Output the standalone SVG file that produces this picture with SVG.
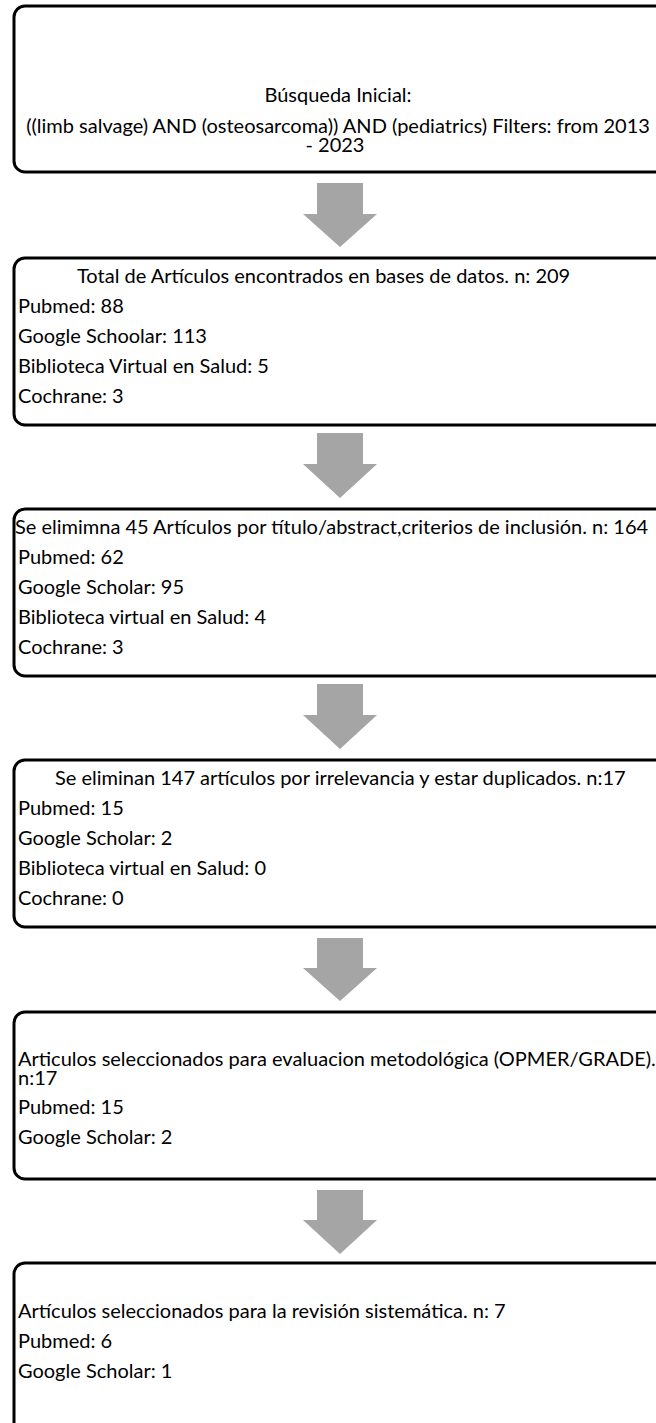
<svg xmlns="http://www.w3.org/2000/svg" width="656" height="1423" viewBox="0 0 656 1423">
<style>
.box{fill:#fff;stroke:#000;stroke-width:3}
.t{font-family:Lato,"Open Sans",sans-serif;font-size:20px;fill:#000}
.c{text-anchor:middle}
.arr{fill:#A5A5A5}
</style>
<rect width="656" height="1423" fill="#fff"/>
<g id="connectors">
<polygon class="arr" points="317,183 363,183 363,214 377,214 340,247 303,214 317,214"/>
<polygon class="arr" points="317,433 363,433 363,464 377,464 340,498 303,464 317,464"/>
<polygon class="arr" points="317,684 363,684 363,715 377,715 340,749 303,715 317,715"/>
<polygon class="arr" points="317,938 363,938 363,968 377,968 340,1001 303,968 317,968"/>
<polygon class="arr" points="317,1190 363,1190 363,1220 377,1220 340,1254 303,1220 317,1220"/>
</g>
<g id="n1">
<rect class="box" x="14" y="6" width="654" height="166" rx="11"/>
<text class="t c" x="338" y="102">Búsqueda Inicial:</text>
<text class="t c" x="338" y="133">((limb salvage) AND (osteosarcoma)) AND (pediatrics) Filters: from 2013</text>
<text class="t c" x="335" y="152">- 2023</text>
</g>
<g id="n2">
<rect class="box" x="14" y="258" width="654" height="167" rx="11"/>
<text class="t" x="77" y="283">Total de Artículos encontrados en bases de datos. n: 209</text>
<text class="t" x="18" y="313">Pubmed: 88</text>
<text class="t" x="18" y="343">Google Schoolar: 113</text>
<text class="t" x="18" y="373">Biblioteca Virtual en Salud: 5</text>
<text class="t" x="18" y="403">Cochrane: 3</text>
</g>
<g id="n3">
<rect class="box" x="14" y="509" width="654" height="167" rx="11"/>
<text class="t" x="15" y="534">Se elimimna 45 Artículos por título/abstract,criterios de inclusión. n: 164</text>
<text class="t" x="18" y="564">Pubmed: 62</text>
<text class="t" x="18" y="594">Google Scholar: 95</text>
<text class="t" x="18" y="624">Biblioteca virtual en Salud: 4</text>
<text class="t" x="18" y="654">Cochrane: 3</text>
</g>
<g id="n4">
<rect class="box" x="14" y="760" width="654" height="167" rx="11"/>
<text class="t" x="55" y="785">Se eliminan 147 artículos por irrelevancia y estar duplicados. n:17</text>
<text class="t" x="18" y="815">Pubmed: 15</text>
<text class="t" x="18" y="845">Google Scholar: 2</text>
<text class="t" x="18" y="875">Biblioteca virtual en Salud: 0</text>
<text class="t" x="18" y="905">Cochrane: 0</text>
</g>
<g id="n5">
<rect class="box" x="14" y="1012" width="654" height="167" rx="11"/>
<text class="t" x="18" y="1066">Articulos seleccionados para evaluacion metodológica (OPMER/GRADE).</text>
<text class="t" x="18" y="1085">n:17</text>
<text class="t" x="18" y="1114">Pubmed: 15</text>
<text class="t" x="18" y="1144">Google Scholar: 2</text>
</g>
<g id="n6">
<rect class="box" x="14" y="1263" width="654" height="180" rx="11"/>
<text class="t" x="18" y="1318">Artículos seleccionados para la revisión sistemática. n: 7</text>
<text class="t" x="18" y="1348">Pubmed: 6</text>
<text class="t" x="18" y="1378">Google Scholar: 1</text>
</g>
</svg>
